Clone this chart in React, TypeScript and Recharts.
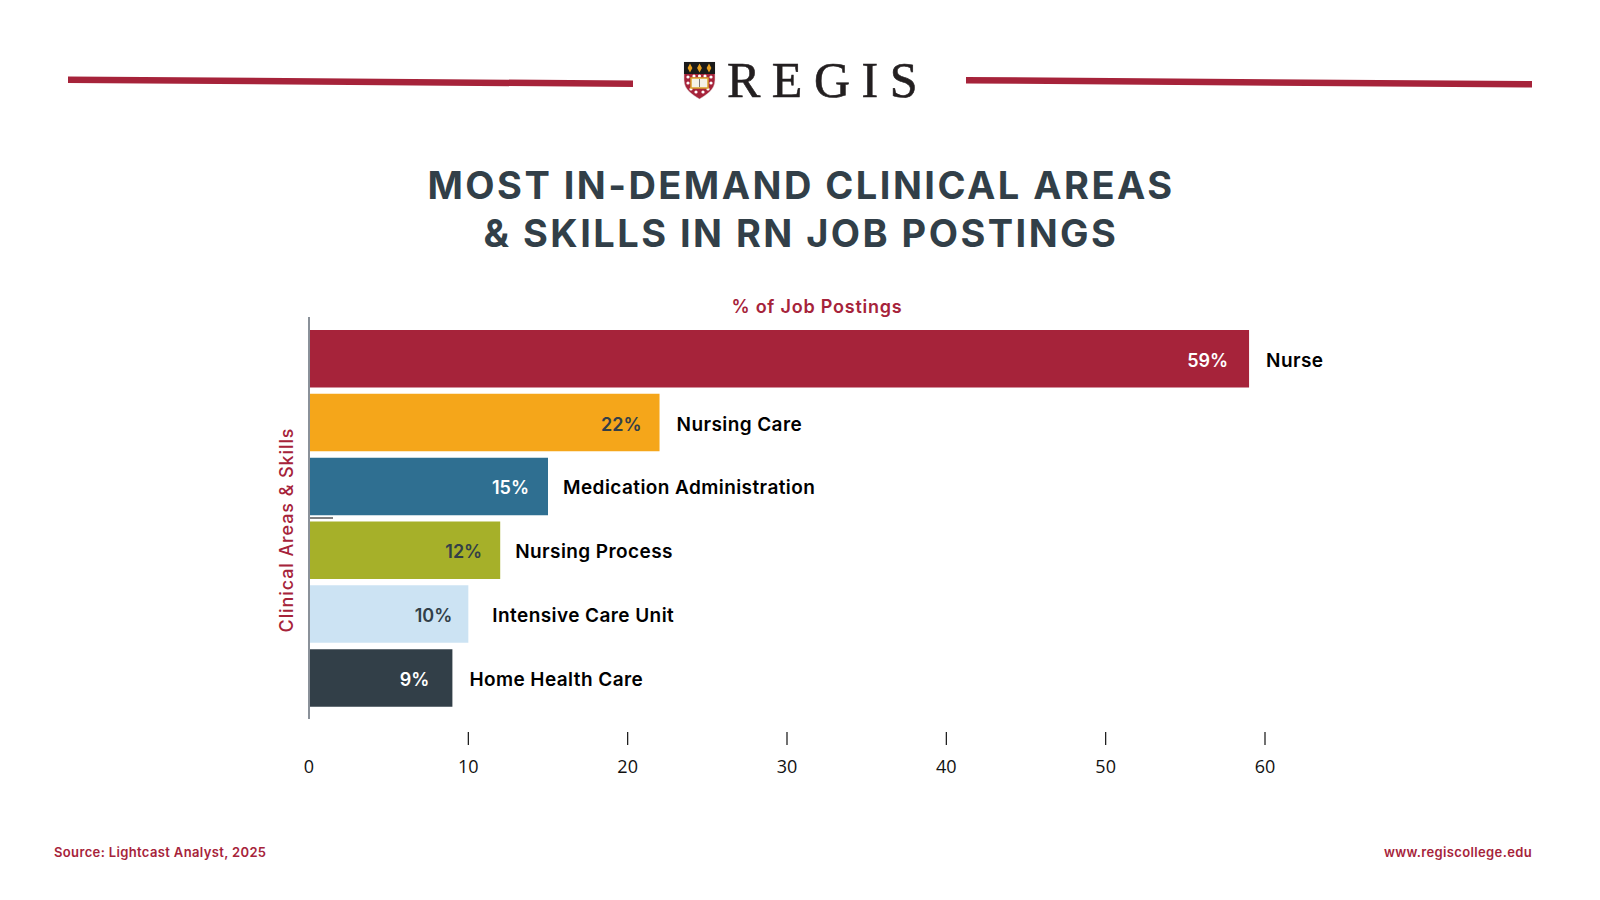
import React from 'react';
import { BarChart, Bar, Cell, XAxis, YAxis, LabelList, ReferenceLine } from 'recharts';

const CATEGORIES = ['Nurse', 'Nursing Care', 'Medication Administration', 'Nursing Process', 'Intensive Care Unit', 'Home Health Care'];
const VALUES = [59, 22, 15, 12, 10, 9];
const X_TICKS = [0, 10, 20, 30, 40, 50, 60];

const BAR_COLORS = ['#A6233A', '#F5A61A', '#2F6F91', '#A6B029', '#CCE3F3', '#323F48'];
const VALUE_COLORS = ['#FFFFFF', '#323F48', '#FFFFFF', '#323F48', '#323F48', '#FFFFFF'];
// hand nudges, the labels are not evenly placed in the original
const VALUE_GAP = [21, 18, 19, 18, 16, 23];
const NAME_GAP = [17, 17, 15, 15, 24, 17];

const RED = '#A6233A';
const SLATE = '#323F48';
const FONT = 'Inter, sans-serif';

const data = CATEGORIES.map((name, i) => ({ name, value: VALUES[i] }));

const XTick = ({ x, y, payload }: any) => (
  <g>
    {payload.value !== 0 && <line x1={x} x2={x} y1={y + 13} y2={y + 26} stroke="#111" strokeWidth={1.2} />}
    <text x={x} y={y + 54} textAnchor="middle" fontFamily="'Open Sans', sans-serif" fontSize={18} fill="#111">
      {payload.value}
    </text>
  </g>
);

const ValueLabel = ({ x, y, width, height, value, index }: any) => (
  <text x={x + width - VALUE_GAP[index]} y={y + height / 2 + 8} textAnchor="end" fontFamily={FONT} fontSize={18} fontWeight={600} fill={VALUE_COLORS[index]}>
    {value}%
  </text>
);

const NameLabel = ({ x, y, width, height, value, index }: any) => (
  <text x={x + width + NAME_GAP[index]} y={y + height / 2 + 8} fontFamily={FONT} fontSize={19} fontWeight={600} letterSpacing={0.42} fill="#000">
    {value}
  </text>
);

const Header = () => (
  <svg width={1600} height={900} style={{ position: 'absolute', left: 0, top: 0 }}>
    <polygon points="68,76.5 633,80.5 633,87 68,83" fill={RED} />
    <polygon points="966,77 1532,81 1532,87.5 966,83.5" fill={RED} />

    {/* shield */}
    <path d="M684 62 H715 V80 C715 90 706 95 699.5 99 C693 95 684 90 684 80 Z" fill={RED} stroke="#ddd" strokeWidth={0.5} />
    <rect x={684} y={62} width={31} height={12} fill="#1A1A1A" />
    <path d="M690 63.5 L692.4 68 L690 72.5 L687.6 68 Z M699.5 63.5 L701.9 68 L699.5 72.5 L697.1 68 Z M709 63.5 L711.4 68 L709 72.5 L706.6 68 Z" fill="#E8A020" />
    <g fill="#fff">
      <circle cx={688} cy={77} r={1.6} /><circle cx={694} cy={76} r={1.6} /><circle cx={699.5} cy={76} r={1.6} />
      <circle cx={705} cy={76} r={1.6} /><circle cx={711} cy={77} r={1.6} />
      <circle cx={688} cy={83} r={1.6} /><circle cx={711} cy={83} r={1.6} />
      <circle cx={691} cy={89} r={1.6} /><circle cx={696} cy={92} r={1.6} /><circle cx={703} cy={92} r={1.6} /><circle cx={708} cy={89} r={1.6} />
    </g>
    <rect x={691} y={78} width={17} height={10} fill="#F4F1E6" stroke="#D9A02A" strokeWidth={1.5} />
    <line x1={699.5} x2={699.5} y1={79} y2={87} stroke="#777" strokeWidth={1} />

    <text x={727} y={96.5} fontFamily="'Liberation Serif', serif" fontSize={50} letterSpacing={11.5} fill="#231F20" stroke="#231F20" strokeWidth={0.6}>REGIS</text>

    <text x={801} y={199} textAnchor="middle" fontFamily={FONT} fontSize={38} fontWeight={700} letterSpacing={2.45} fill={SLATE}>MOST IN-DEMAND CLINICAL AREAS</text>
    <text x={801} y={247} textAnchor="middle" fontFamily={FONT} fontSize={38} fontWeight={700} letterSpacing={2.45} fill={SLATE}>&amp; SKILLS IN RN JOB POSTINGS</text>

    <text x={817} y={313} textAnchor="middle" fontFamily={FONT} fontSize={18} fontWeight={600} letterSpacing={0.78} fill={RED}>% of Job Postings</text>
    <text x={293} y={530} textAnchor="middle" transform="rotate(-90 293 530)" fontFamily={FONT} fontSize={18} fontWeight={500} letterSpacing={0.9} fill={RED}>Clinical Areas &amp; Skills</text>

    <line x1={309} x2={333} y1={518} y2={518} stroke="#555" strokeWidth={1.5} />

    <text x={54} y={857} fontFamily={FONT} fontSize={13} fontWeight={600} letterSpacing={0.36} fill={RED}>Source: Lightcast Analyst, 2025</text>
    <text x={1532} y={857} textAnchor="end" fontFamily={FONT} fontSize={13} fontWeight={600} letterSpacing={0.36} fill={RED}>www.regiscollege.edu</text>
  </svg>
);

export default function App() {
  return (
    <div style={{ position: 'absolute', left: 0, top: 0, width: 1600, height: 900, background: '#fff', overflow: 'hidden' }}>
      <Header />
      <div style={{ position: 'absolute', left: 0, top: 0 }}>
        <BarChart
          width={1600}
          height={900}
          data={data}
          layout="vertical"
          margin={{ top: 317, right: 335, bottom: 121, left: 309 }}
          style={{ overflow: 'visible' }}
        >
          <XAxis
            type="number"
            domain={[0, 60]}
            ticks={X_TICKS}
            interval={0}
            height={60}
            axisLine={false}
            tickLine={false}
            tickSize={0}
            tickMargin={0}
            tick={<XTick />}
          />
          <YAxis
            type="category"
            dataKey="name"
            width={0}
            tick={false}
            tickLine={false}
            axisLine={false}
            padding={{ top: 10, bottom: 9 }}
          />
          <Bar dataKey="value" barSize={57.5} isAnimationActive={false}>
            {data.map((d, i) => <Cell key={d.name} fill={BAR_COLORS[i]} />)}
            <LabelList dataKey="value" content={<ValueLabel />} />
            <LabelList dataKey="name" content={<NameLabel />} />
          </Bar>
          <ReferenceLine x={0} stroke="#8A9199" strokeWidth={2} />
        </BarChart>
      </div>
    </div>
  );
}
